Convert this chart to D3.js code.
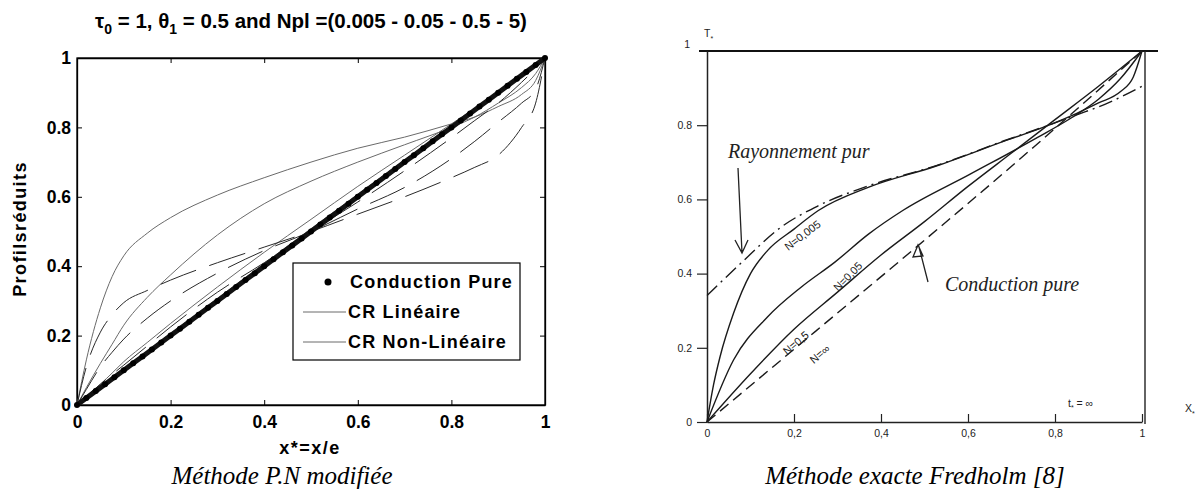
<!DOCTYPE html>
<html>
<head>
<meta charset="utf-8">
<script src="https://cdnjs.cloudflare.com/ajax/libs/d3/7.8.5/d3.min.js"></script>
<style>
  body { margin: 0; background: #fff; }
  svg { display: block; }
</style>
</head>
<body>
<svg id="chart"></svg>
<script>
var width = 1198;
var height = 493;

// ---- left panel data (modified P.N method) ----
var xGrid = [0, 0.02, 0.05, 0.075, 0.1, 0.15, 0.2, 0.3, 0.4, 0.5, 0.6, 0.7, 0.8, 0.85, 0.9, 0.95, 0.98, 1];

// CR Linéaire, Npl = 0.005, 0.05, 0.5, 5
var lin0005 = [0, 0.13, 0.28, 0.37, 0.43, 0.495, 0.54, 0.605, 0.655, 0.70, 0.74, 0.772, 0.81, 0.83, 0.86, 0.895, 0.935, 1];
var lin005  = [0, 0.05, 0.12, 0.175, 0.23, 0.31, 0.375, 0.49, 0.58, 0.645, 0.70, 0.75, 0.80, 0.83, 0.87, 0.915, 0.955, 1];
var lin05   = [0, 0.025, 0.06, 0.092, 0.125, 0.18, 0.235, 0.34, 0.44, 0.535, 0.63, 0.72, 0.81, 0.855, 0.90, 0.95, 0.98, 1];
var lin5    = [0, 0.021, 0.052, 0.078, 0.104, 0.155, 0.206, 0.307, 0.408, 0.508, 0.607, 0.706, 0.805, 0.854, 0.903, 0.952, 0.981, 1];

// CR Non-Linéaire, Npl = 0.005, 0.05, 0.5, 5
var nl0005 = [0, 0.11, 0.21, 0.26, 0.295, 0.33, 0.36, 0.41, 0.455, 0.50, 0.55, 0.60, 0.655, 0.685, 0.72, 0.80, 0.87, 1];
var nl005  = [0, 0.045, 0.11, 0.152, 0.19, 0.25, 0.30, 0.38, 0.445, 0.50, 0.565, 0.627, 0.71, 0.76, 0.815, 0.87, 0.91, 1];
var nl05   = [0, 0.025, 0.06, 0.088, 0.115, 0.17, 0.225, 0.325, 0.41, 0.50, 0.585, 0.675, 0.77, 0.82, 0.87, 0.93, 0.97, 1];
var nl5    = [0, 0.021, 0.051, 0.077, 0.102, 0.152, 0.203, 0.303, 0.404, 0.503, 0.602, 0.702, 0.801, 0.851, 0.901, 0.951, 0.98, 1];

// Conduction pure (dots)
var condX = [0, 0.02, 0.04, 0.06, 0.08, 0.1, 0.12, 0.14, 0.16, 0.18, 0.2, 0.22, 0.24, 0.26, 0.28, 0.3, 0.32, 0.34, 0.36, 0.38, 0.4, 0.42, 0.44, 0.46, 0.48, 0.5, 0.52, 0.54, 0.56, 0.58, 0.6, 0.62, 0.64, 0.66, 0.68, 0.7, 0.72, 0.74, 0.76, 0.78, 0.8, 0.82, 0.84, 0.86, 0.88, 0.9, 0.92, 0.94, 0.96, 0.98, 1];
var condY = [0, 0.02, 0.04, 0.06, 0.08, 0.1, 0.12, 0.14, 0.16, 0.18, 0.2, 0.22, 0.24, 0.26, 0.28, 0.3, 0.32, 0.34, 0.36, 0.38, 0.4, 0.42, 0.44, 0.46, 0.48, 0.5, 0.52, 0.54, 0.56, 0.58, 0.6, 0.62, 0.64, 0.66, 0.68, 0.7, 0.72, 0.74, 0.76, 0.78, 0.8, 0.82, 0.84, 0.86, 0.88, 0.9, 0.92, 0.94, 0.96, 0.98, 1];

var leftTicks = [0, 0.2, 0.4, 0.6, 0.8, 1];
var leftTickLabels = ["0", "0.2", "0.4", "0.6", "0.8", "1"];
var legendLabels = ["Conduction Pure", "CR Linéaire", "CR Non-Linéaire"];

// ---- right panel data (Fredholm exact method) ----
var rayX = [0, 0.077, 0.17, 0.256, 0.372, 0.527, 0.683, 0.792, 0.85, 0.916, 1];
var rayY = [0.341, 0.427, 0.525, 0.583, 0.637, 0.691, 0.758, 0.803, 0.828, 0.857, 0.905];

var n0005X = [0, 0.015, 0.03, 0.061, 0.1, 0.139, 0.2, 0.256, 0.372, 0.527, 0.683, 0.792, 0.85, 0.9, 0.95, 0.98, 1];
var n0005Y = [0, 0.1, 0.176, 0.293, 0.40, 0.462, 0.52, 0.57, 0.633, 0.69, 0.757, 0.803, 0.832, 0.86, 0.89, 0.93, 1];

var n005X = [0, 0.061, 0.139, 0.217, 0.294, 0.372, 0.45, 0.605, 0.76, 0.838, 0.9, 0.95, 1];
var n005Y = [0, 0.167, 0.283, 0.364, 0.431, 0.507, 0.57, 0.668, 0.767, 0.82, 0.87, 0.925, 1];

var n05X = [0, 0.1, 0.2, 0.3, 0.4, 0.5, 0.6, 0.7, 0.8, 0.9, 1];
var n05Y = [0, 0.13, 0.25, 0.35, 0.45, 0.54, 0.635, 0.725, 0.815, 0.905, 1];

var condRX = [0, 0.25, 0.5, 0.75, 1];
var condRY = [0, 0.245, 0.49, 0.74, 1];

var rightTicks = [0, 0.2, 0.4, 0.6, 0.8, 1];
var rightYLabels = ["0", "0.2", "0.4", "0.6", "0.8", "1"];
var rightXLabels = ["0", "0,2", "0,4", "0,6", "0,8", "1"];

var svg = d3.select("#chart").attr("width", width).attr("height", height);
var sans = "'Liberation Sans', Arial, sans-serif";
var serif = "'Liberation Serif', 'Times New Roman', serif";

// ================= LEFT PANEL =================
var xL = d3.scaleLinear().domain([0, 1]).range([77, 545]);
var yL = d3.scaleLinear().domain([0, 1]).range([405, 58]);

var gL = svg.append("g");

gL.append("rect")
  .attr("x", xL(0)).attr("y", yL(1))
  .attr("width", xL(1) - xL(0)).attr("height", yL(0) - yL(1))
  .attr("fill", "#fff").attr("stroke", "#000").attr("stroke-width", 1.3);

function fmtL(d) { return leftTickLabels[leftTicks.indexOf(d)]; }

gL.append("g").attr("transform", "translate(0," + yL(0) + ")")
  .call(d3.axisBottom(xL).tickValues(leftTicks).tickSize(-5).tickSizeOuter(0).tickPadding(11).tickFormat(fmtL));
gL.append("g").attr("transform", "translate(" + xL(0) + ",0)")
  .call(d3.axisLeft(yL).tickValues(leftTicks).tickSize(-5).tickSizeOuter(0).tickPadding(6).tickFormat(fmtL));
gL.append("g").attr("transform", "translate(0," + yL(1) + ")")
  .call(d3.axisTop(xL).tickValues(leftTicks).tickSize(-5).tickSizeOuter(0).tickFormat(""));
gL.append("g").attr("transform", "translate(" + xL(1) + ",0)")
  .call(d3.axisRight(yL).tickValues(leftTicks).tickSize(-5).tickSizeOuter(0).tickFormat(""));

gL.selectAll(".domain").attr("stroke", "#000").attr("stroke-width", 1.3);
gL.selectAll(".tick line").attr("stroke", "#000");
gL.selectAll(".tick text")
  .attr("font-family", sans).attr("font-weight", "bold").attr("font-size", 17.5).attr("fill", "#000");

var lineL = d3.line()
  .x(function(d) { return xL(d[0]); })
  .y(function(d) { return yL(d[1]); })
  .curve(d3.curveMonotoneX);

function pairs(xs, ys) { return xs.map(function(x, i) { return [x, ys[i]]; }); }

var solidSeries = [lin0005, lin005, lin05, lin5];
var dashedSeries = [nl0005, nl005, nl05, nl5];

gL.selectAll(".lin").data(solidSeries).enter().append("path")
  .attr("class", "lin")
  .attr("d", function(s) { return lineL(pairs(xGrid, s)); })
  .attr("fill", "none").attr("stroke", "#6a6a6a").attr("stroke-width", 1);

gL.selectAll(".nl").data(dashedSeries).enter().append("path")
  .attr("class", "nl")
  .attr("d", function(s) { return lineL(pairs(xGrid, s)); })
  .attr("fill", "none").attr("stroke", "#2a2a2a").attr("stroke-width", 1)
  .attr("stroke-dasharray", "38,14");

// conduction pure: dense black dots
var condPts = pairs(condX, condY);
gL.append("path")
  .attr("d", d3.line().x(function(d) { return xL(d[0]); }).y(function(d) { return yL(d[1]); })(condPts))
  .attr("fill", "none").attr("stroke", "#111").attr("stroke-width", 5);
gL.selectAll(".cdot").data(condPts).enter().append("circle")
  .attr("class", "cdot")
  .attr("cx", function(d) { return xL(d[0]); })
  .attr("cy", function(d) { return yL(d[1]); })
  .attr("r", 3).attr("fill", "#000");

// title
var title = svg.append("text")
  .attr("x", 311).attr("y", 28)
  .attr("text-anchor", "middle")
  .attr("font-family", sans).attr("font-weight", "bold").attr("font-size", 20.5);
title.append("tspan").text("τ");
title.append("tspan").attr("dy", 6).attr("font-size", 14).text("0");
title.append("tspan").attr("dy", -6).text(" = 1, θ");
title.append("tspan").attr("dy", 6).attr("font-size", 14).text("1");
title.append("tspan").attr("dy", -6).text(" = 0.5 and Npl =(0.005 - 0.05 - 0.5 - 5)");

// axis labels
svg.append("text")
  .attr("x", 310).attr("y", 454)
  .attr("text-anchor", "middle")
  .attr("font-family", sans).attr("font-weight", "bold").attr("font-size", 18)
  .attr("letter-spacing", 1.5)
  .text("x*=x/e");

svg.append("text")
  .attr("transform", "translate(26,229) rotate(-90)")
  .attr("text-anchor", "middle")
  .attr("font-family", sans).attr("font-weight", "bold").attr("font-size", 18)
  .attr("letter-spacing", 1.4)
  .text("Profilsréduits");

// legend
var leg = svg.append("g");
leg.append("rect").attr("x", 293).attr("y", 263).attr("width", 227).attr("height", 97)
  .attr("fill", "#fff").attr("stroke", "#000").attr("stroke-width", 1.2);
leg.append("circle").attr("cx", 328).attr("cy", 282).attr("r", 3.5).attr("fill", "#000");
leg.append("line").attr("x1", 303).attr("x2", 346).attr("y1", 312).attr("y2", 312)
  .attr("stroke", "#6a6a6a").attr("stroke-width", 1);
leg.append("line").attr("x1", 303).attr("x2", 346).attr("y1", 342).attr("y2", 342)
  .attr("stroke", "#6a6a6a").attr("stroke-width", 1);
leg.selectAll(".lt").data(legendLabels).enter().append("text")
  .attr("class", "lt")
  .attr("x", function(d, i) { return i === 0 ? 350 : 348; })
  .attr("y", function(d, i) { return 288 + i * 30; })
  .attr("font-family", sans).attr("font-weight", "bold").attr("font-size", 18)
  .attr("letter-spacing", 1.2)
  .text(function(d) { return d; });

// caption
svg.append("text")
  .attr("x", 282).attr("y", 484)
  .attr("text-anchor", "middle")
  .attr("font-family", serif).attr("font-style", "italic").attr("font-size", 25)
  .text("Méthode P.N modifiée");

// ================= RIGHT PANEL =================
var xR = d3.scaleLinear().domain([0, 1]).range([707, 1142]);
var yR = d3.scaleLinear().domain([0, 1]).range([422, 51]);
var gR = svg.append("g");

// frame
gR.append("line").attr("x1", 699).attr("x2", 1158).attr("y1", yR(1)).attr("y2", yR(1))
  .attr("stroke", "#111").attr("stroke-width", 2);
gR.append("line").attr("x1", xR(1) + 3).attr("x2", xR(1) + 3).attr("y1", yR(1)).attr("y2", yR(0) + 2)
  .attr("stroke", "#222").attr("stroke-width", 1.4);

gR.append("g").attr("transform", "translate(0," + yR(0) + ")")
  .call(d3.axisBottom(xR).tickValues(rightTicks).tickSize(-8).tickSizeOuter(0).tickPadding(8)
    .tickFormat(function(d) { return rightXLabels[rightTicks.indexOf(d)]; }));
gR.append("g").attr("transform", "translate(" + xR(0) + ",0)")
  .call(d3.axisLeft(yR).tickValues(rightTicks.slice(0, 5)).tickSize(10).tickSizeOuter(0).tickPadding(5)
    .tickFormat(function(d) { return rightYLabels[rightTicks.indexOf(d)]; }));
gR.selectAll(".domain").attr("stroke", "#222").attr("stroke-width", 1.5);
gR.selectAll(".tick line").attr("stroke", "#222").attr("stroke-width", 1.2);
gR.selectAll(".tick text").attr("font-family", sans).attr("font-size", 10.5).attr("fill", "#222");

gR.append("text").attr("x", 690).attr("y", yR(1) - 3)
  .attr("text-anchor", "end").attr("font-family", sans).attr("font-size", 10.5).attr("fill", "#222").text("1");

var lineR = d3.line()
  .x(function(d) { return xR(d[0]); })
  .y(function(d) { return yR(d[1]); })
  .curve(d3.curveMonotoneX);

var rightCurves = [
  { pts: pairs(rayX, rayY), dash: "14,5,2,5" },
  { pts: pairs(n0005X, n0005Y), dash: null },
  { pts: pairs(n005X, n005Y), dash: null },
  { pts: pairs(n05X, n05Y), dash: null },
  { pts: pairs(condRX, condRY), dash: "11,6" }
];
gR.selectAll(".rc").data(rightCurves).enter().append("path")
  .attr("class", "rc")
  .attr("d", function(c) { return lineR(c.pts); })
  .attr("fill", "none").attr("stroke", "#1a1a1a").attr("stroke-width", 1.4)
  .attr("stroke-dasharray", function(c) { return c.dash; });

// curve labels
var hand = serif;
var curveLabels = [
  { t: "N=0,005", x: 0.225, y: 0.495, a: -37 },
  { t: "N=0,05", x: 0.33, y: 0.385, a: -45 },
  { t: "N=0,5", x: 0.21, y: 0.205, a: -40 },
  { t: "N=∞", x: 0.265, y: 0.175, a: -40 }
];
gR.selectAll(".cl").data(curveLabels).enter().append("text")
  .attr("class", "cl")
  .attr("transform", function(d) { return "translate(" + xR(d.x) + "," + yR(d.y) + ") rotate(" + d.a + ")"; })
  .attr("text-anchor", "middle")
  .attr("font-family", sans).attr("font-size", 11).attr("fill", "#222")
  .text(function(d) { return d.t; });

// annotations
gR.append("text").attr("x", 728).attr("y", 158)
  .attr("font-family", hand).attr("font-style", "italic").attr("font-size", 20).attr("fill", "#222")
  .text("Rayonnement pur");
gR.append("path").attr("d", "M738,168 L742,253 M735,240 L742,253 L748,240")
  .attr("fill", "none").attr("stroke", "#222").attr("stroke-width", 1.3);

gR.append("text").attr("x", 945).attr("y", 291)
  .attr("font-family", hand).attr("font-style", "italic").attr("font-size", 20).attr("fill", "#222")
  .text("Conduction pure");
gR.append("path").attr("d", "M928,282 L919,247 M913,257 L918,245 L923,256 Z")
  .attr("fill", "none").attr("stroke", "#222").attr("stroke-width", 1.3);

// axis names
var tl = gR.append("text").attr("x", 704).attr("y", 37)
  .attr("font-family", sans).attr("font-size", 10.5).attr("fill", "#222");
tl.append("tspan").text("T");
tl.append("tspan").attr("dy", 4).attr("font-size", 7).text("*");

var xl = gR.append("text").attr("x", 1185).attr("y", 412)
  .attr("font-family", sans).attr("font-size", 10.5).attr("fill", "#222");
xl.append("tspan").text("X");
xl.append("tspan").attr("dy", 4).attr("font-size", 7).text("*");

var tt = gR.append("text").attr("x", 1068).attr("y", 407)
  .attr("font-family", sans).attr("font-size", 10.5).attr("fill", "#222");
tt.append("tspan").text("t");
tt.append("tspan").attr("dy", 3).attr("font-size", 7).text("*");
tt.append("tspan").attr("dy", -3).text(" = ∞");

svg.append("text")
  .attr("x", 915).attr("y", 484)
  .attr("text-anchor", "middle")
  .attr("font-family", serif).attr("font-style", "italic").attr("font-size", 25)
  .text("Méthode exacte Fredholm [8]");
</script>
</body>
</html>
